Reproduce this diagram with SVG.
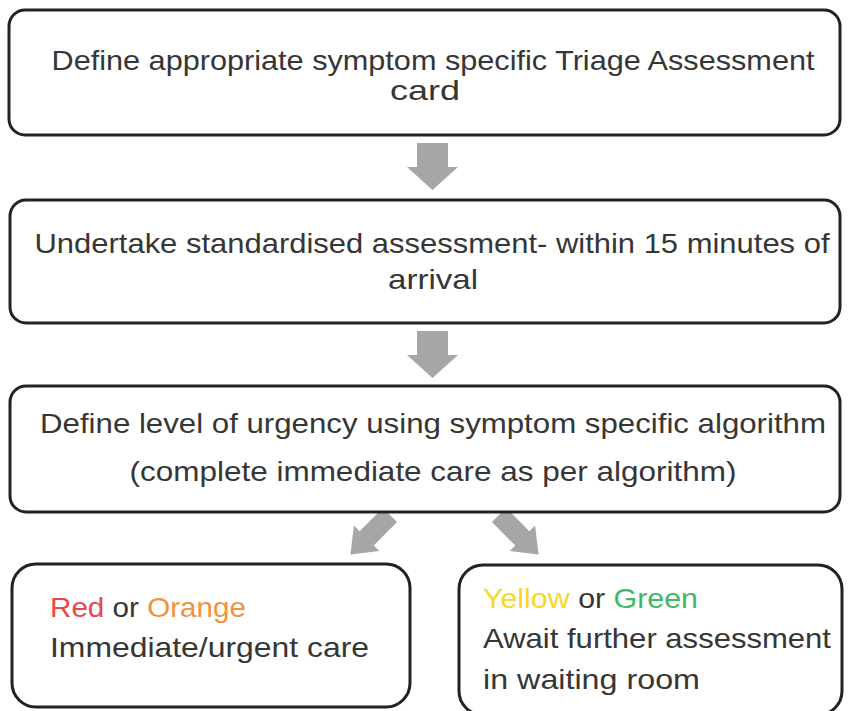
<svg xmlns="http://www.w3.org/2000/svg" width="848" height="711" viewBox="0 0 848 711">
<style>
.box{fill:#ffffff;stroke:#222222;stroke-width:3}
.t{font-family:"Liberation Sans","Open Sans",sans-serif;font-size:28px;fill:#363636}
.arrow{fill:#a6a6a6}
</style>
<defs>
<polygon id="blk" points="-15,0 16,0 16,24 26,24 0.5,47 -25,24 -15,24"/>
<polygon id="dia" points="-10,0 10,0 10,33 18,33 0,56 -18,33 -10,33"/>
</defs>
<rect width="848" height="711" fill="#ffffff"/>
<g id="connectors">
<use href="#blk" class="arrow" transform="translate(432,143)"/>
<use href="#blk" class="arrow" transform="translate(432,331)"/>
<use href="#dia" class="arrow" transform="translate(390,515) rotate(45)"/>
<use href="#dia" class="arrow" transform="translate(499,515) rotate(-45)"/>
</g>
<g id="n1">
<rect class="box" x="9" y="10" width="831" height="125" rx="16"/>
<text class="t" x="433" y="70" text-anchor="middle" textLength="763" lengthAdjust="spacingAndGlyphs">Define appropriate symptom specific Triage Assessment</text>
<text class="t" x="425" y="100" text-anchor="middle" textLength="70" lengthAdjust="spacingAndGlyphs">card</text>
</g>
<g id="n2">
<rect class="box" x="10" y="200" width="830" height="123" rx="16"/>
<text class="t" x="432" y="253" text-anchor="middle" textLength="795" lengthAdjust="spacingAndGlyphs">Undertake standardised assessment- within 15 minutes of</text>
<text class="t" x="433" y="289" text-anchor="middle" textLength="90" lengthAdjust="spacingAndGlyphs">arrival</text>
</g>
<g id="n3">
<rect class="box" x="10" y="386" width="830" height="126" rx="16"/>
<text class="t" x="433" y="433" text-anchor="middle" textLength="786" lengthAdjust="spacingAndGlyphs">Define level of urgency using symptom specific algorithm</text>
<text class="t" x="433" y="481" text-anchor="middle" textLength="607" lengthAdjust="spacingAndGlyphs">(complete immediate care as per algorithm)</text>
</g>
<g id="n4">
<rect class="box" x="12" y="564" width="398" height="143" rx="24"/>
<text class="t" x="50" y="617" textLength="196" lengthAdjust="spacingAndGlyphs"><tspan fill="#e8484a">Red</tspan> or <tspan fill="#f0923e">Orange</tspan></text>
<text class="t" x="50" y="657" textLength="319" lengthAdjust="spacingAndGlyphs">Immediate/urgent care</text>
</g>
<g id="n5">
<rect class="box" x="459" y="565" width="383" height="150" rx="24"/>
<text class="t" x="483" y="608" textLength="215" lengthAdjust="spacingAndGlyphs"><tspan fill="#f6d72a">Yellow</tspan> or <tspan fill="#3fb866">Green</tspan></text>
<text class="t" x="483" y="648" textLength="348" lengthAdjust="spacingAndGlyphs">Await further assessment</text>
<text class="t" x="483" y="689" textLength="217" lengthAdjust="spacingAndGlyphs">in waiting room</text>
</g>
</svg>
